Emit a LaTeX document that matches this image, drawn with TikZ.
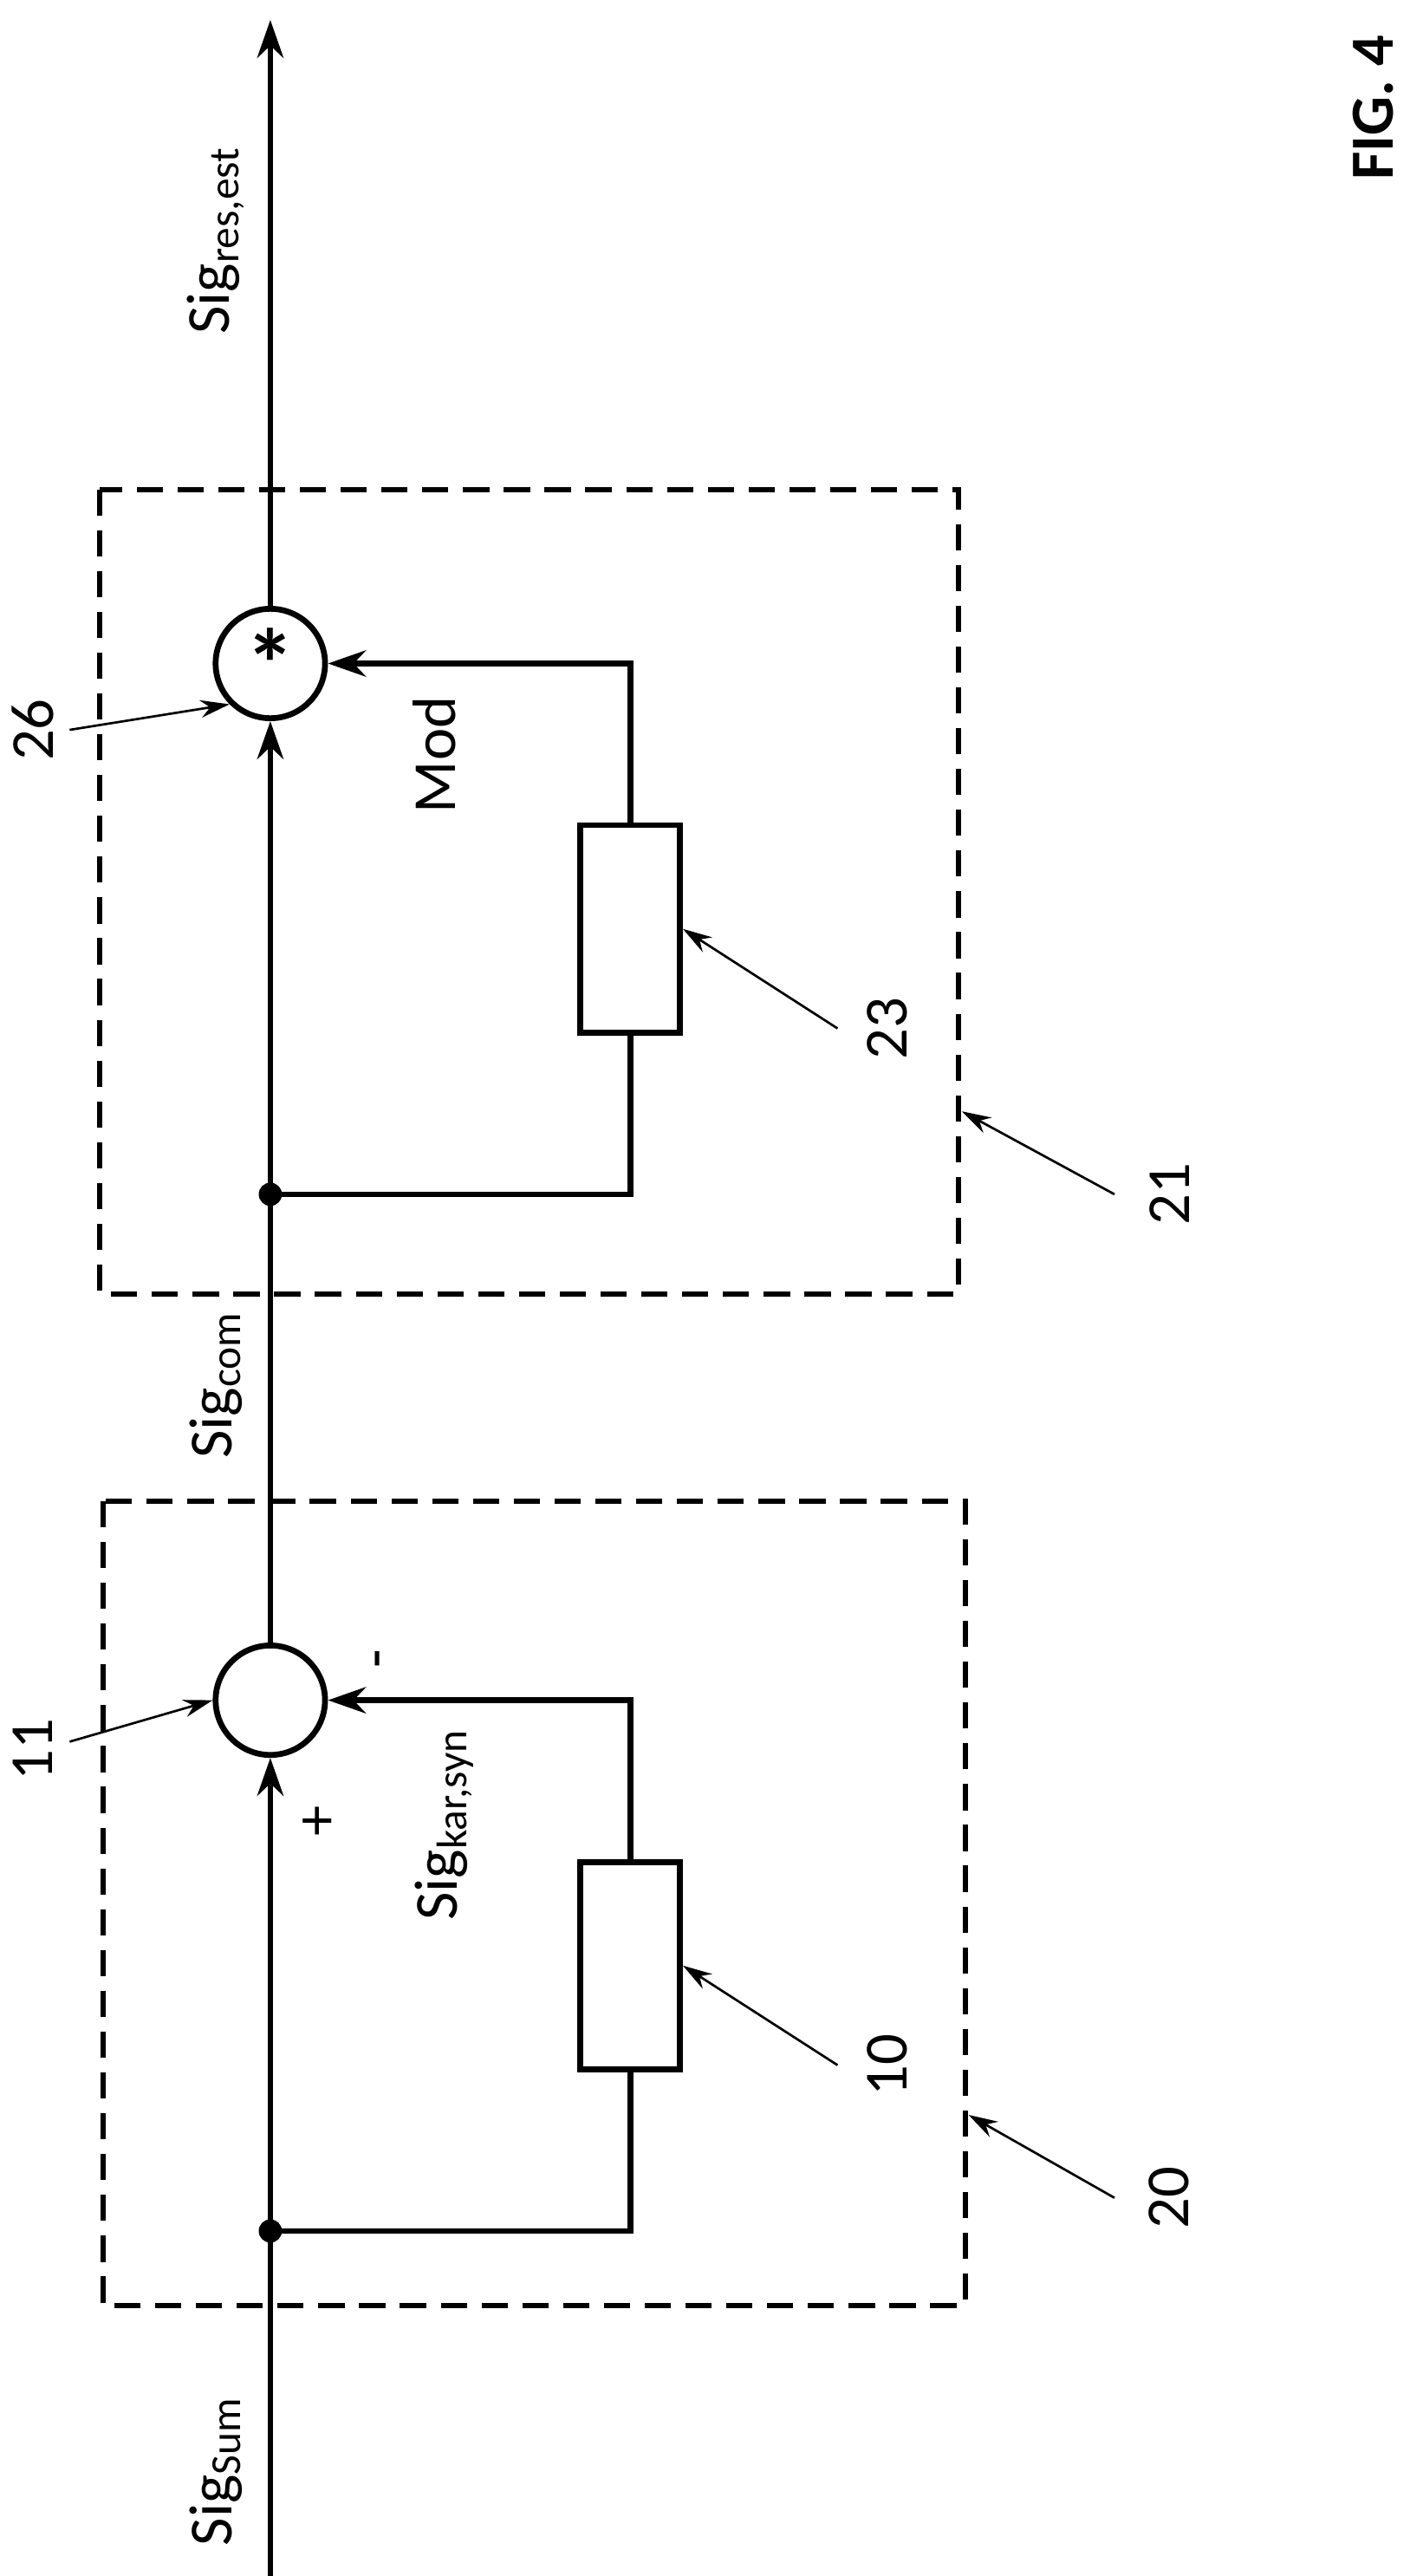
\documentclass[tikz,border=0pt]{standalone}
\usepackage{fontspec}
\setmainfont{Carlito}
\usetikzlibrary{arrows.meta}
\tikzset{
  sig/.style={line width=2pt},
  box/.style={draw,dashed,line width=1.8pt,dash pattern=on 9pt off 5pt},
  blk/.style={draw,line width=2pt,minimum width=1.2cm,minimum height=2.5cm,inner sep=0pt},
  junc/.style={draw,circle,line width=2pt,minimum size=1.32cm,inner sep=0pt},
  lbl/.style={rotate=90,font=\fontsize{21}{25}\selectfont},
  ref/.style={-{Stealth[length=10pt,width=6pt]},line width=0.8pt},
  tip/.style={-{Stealth[length=13pt,width=9pt]}}
}
\begin{document}
\begin{tikzpicture}[x=0.02cm,y=-0.02cm]
    \useasboundingbox (0,0) rectangle (850,1553);
    % dashed boxes
    \draw[box] (62,905) rectangle (582,1390);
    \draw[box] (60,295) rectangle (578,780);
    % nodes
    \coordinate (in) at (163,1555);
    \coordinate (out) at (163,12);
    \node[junc] (sum) at (163,1025) {};
    \node[junc] (mul) at (163,400) {\fontsize{34}{34}\selectfont\bfseries *};
    \node[blk] (b10) at (380,1185) {};
    \node[blk] (b23) at (380,560) {};
    \fill (163,1345) circle (7) coordinate (d1);
    \fill (163,720) circle (7) coordinate (d2);
    % signal path
    \draw[sig] (in) -- (d1);
    \draw[sig,tip] (d1) -- (sum.south);
    \draw[sig] (sum.north) -- (d2);
    \draw[sig,tip] (d2) -- (mul.south);
    \draw[sig,tip] (mul.north) -- (out);
    \draw[sig] (d1) -| (b10.south);
    \draw[sig,tip] (b10.north) |- (sum.east);
    \draw[sig] (d2) -| (b23.south);
    \draw[sig,tip] (b23.north) |- (mul.east);
    % labels
    \node[lbl] at (130,1490) {Sig\textsubscript{Sum}};
    \node[lbl] at (193,1098) {+};
    \node[lbl] at (232,1000) {-};
    \node[lbl] at (268,1100) {Sig\textsubscript{kar,syn}};
    \node[lbl] at (130,835) {Sig\textsubscript{com}};
    \node[lbl] at (262,455) {Mod};
    \node[lbl] at (130,145) {Sig\textsubscript{res,est}};
    \node[lbl,font=\fontsize{21}{25}\selectfont\bfseries] at (828,65) {FIG. 4};
    % reference numbers
    \node[lbl] (n11) at (20,1055) {11};
    \draw[ref] (42,1050) -- (sum.west);
    \node[lbl] (n10) at (535,1245) {10};
    \draw[ref] (505,1245) -- (b10.east);
    \node[lbl] (n20) at (705,1325) {20};
    \draw[ref] (672,1325) -- (584,1275);
    \node[lbl] (n26) at (20,440) {26};
    \draw[ref] (42,440) -- (mul.south west);
    \node[lbl] (n23) at (535,620) {23};
    \draw[ref] (505,620) -- (b23.east);
    \node[lbl] (n21) at (705,720) {21};
    \draw[ref] (672,720) -- (580,670);
\end{tikzpicture}
\end{document}
